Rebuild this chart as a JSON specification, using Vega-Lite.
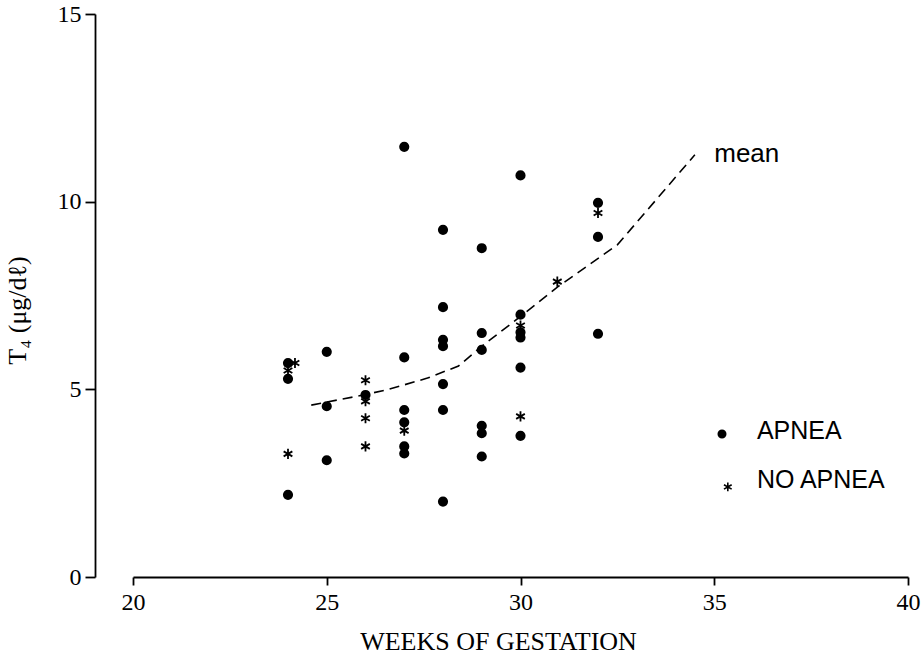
{
  "$schema": "https://vega.github.io/schema/vega-lite/v6.json",
  "width": 775,
  "height": 563,
  "autosize": {"type": "none"},
  "padding": {"left": 133, "top": 14, "right": 16, "bottom": 79},
  "background": "white",
  "config": {
    "view": {"stroke": null},
    "axis": {
      "grid": false,
      "domainColor": "black",
      "tickColor": "black",
      "labelColor": "black",
      "titleColor": "black",
      "labelFont": "Liberation Serif",
      "titleFont": "Liberation Serif",
      "titleFontWeight": "normal",
      "domainWidth": 1.8,
      "tickWidth": 1.8
    }
  },
  "datasets": {
    "points": [
      {"weeks": 24, "t4": 5.70, "group": "APNEA"},
      {"weeks": 24, "t4": 5.28, "group": "APNEA"},
      {"weeks": 24, "t4": 2.19, "group": "APNEA"},
      {"weeks": 25, "t4": 6.00, "group": "APNEA"},
      {"weeks": 25, "t4": 4.55, "group": "APNEA"},
      {"weeks": 25, "t4": 3.11, "group": "APNEA"},
      {"weeks": 26, "t4": 4.85, "group": "APNEA"},
      {"weeks": 27, "t4": 11.46, "group": "APNEA"},
      {"weeks": 27, "t4": 5.85, "group": "APNEA"},
      {"weeks": 27, "t4": 4.45, "group": "APNEA"},
      {"weeks": 27, "t4": 4.12, "group": "APNEA"},
      {"weeks": 27, "t4": 3.48, "group": "APNEA"},
      {"weeks": 27, "t4": 3.29, "group": "APNEA"},
      {"weeks": 28, "t4": 9.25, "group": "APNEA"},
      {"weeks": 28, "t4": 7.19, "group": "APNEA"},
      {"weeks": 28, "t4": 6.32, "group": "APNEA"},
      {"weeks": 28, "t4": 6.15, "group": "APNEA"},
      {"weeks": 28, "t4": 5.14, "group": "APNEA"},
      {"weeks": 28, "t4": 4.45, "group": "APNEA"},
      {"weeks": 28, "t4": 2.01, "group": "APNEA"},
      {"weeks": 29, "t4": 8.76, "group": "APNEA"},
      {"weeks": 29, "t4": 6.50, "group": "APNEA"},
      {"weeks": 29, "t4": 6.05, "group": "APNEA"},
      {"weeks": 29, "t4": 4.03, "group": "APNEA"},
      {"weeks": 29, "t4": 3.83, "group": "APNEA"},
      {"weeks": 29, "t4": 3.21, "group": "APNEA"},
      {"weeks": 30, "t4": 10.70, "group": "APNEA"},
      {"weeks": 30, "t4": 6.99, "group": "APNEA"},
      {"weeks": 30, "t4": 6.52, "group": "APNEA"},
      {"weeks": 30, "t4": 6.38, "group": "APNEA"},
      {"weeks": 30, "t4": 5.58, "group": "APNEA"},
      {"weeks": 30, "t4": 3.76, "group": "APNEA"},
      {"weeks": 32, "t4": 9.97, "group": "APNEA"},
      {"weeks": 32, "t4": 9.06, "group": "APNEA"},
      {"weeks": 32, "t4": 6.48, "group": "APNEA"},
      {"weeks": 24.18, "t4": 5.70, "group": "NO APNEA"},
      {"weeks": 24, "t4": 5.50, "group": "NO APNEA"},
      {"weeks": 24, "t4": 3.28, "group": "NO APNEA"},
      {"weeks": 26, "t4": 5.24, "group": "NO APNEA"},
      {"weeks": 26, "t4": 4.68, "group": "NO APNEA"},
      {"weeks": 26, "t4": 4.23, "group": "NO APNEA"},
      {"weeks": 26, "t4": 3.48, "group": "NO APNEA"},
      {"weeks": 27, "t4": 3.90, "group": "NO APNEA"},
      {"weeks": 30, "t4": 6.70, "group": "NO APNEA"},
      {"weeks": 30, "t4": 4.28, "group": "NO APNEA"},
      {"weeks": 30.95, "t4": 7.87, "group": "NO APNEA"},
      {"weeks": 32, "t4": 9.70, "group": "NO APNEA"}
    ],
    "mean": [
      {"weeks": 24.6, "t4": 4.58},
      {"weeks": 25.9, "t4": 4.84},
      {"weeks": 26.6, "t4": 5.0},
      {"weeks": 27.6, "t4": 5.3},
      {"weeks": 28.4, "t4": 5.62},
      {"weeks": 29.0, "t4": 6.15},
      {"weeks": 29.8, "t4": 6.78},
      {"weeks": 31.0, "t4": 7.76},
      {"weeks": 32.5, "t4": 8.85},
      {"weeks": 34.5, "t4": 11.25}
    ],
    "label": [{"weeks": 35.0, "t4": 11.05, "text": "mean"}],
    "legendSymbols": [
      {"weeks": 35.2, "t4": 3.81, "group": "APNEA"},
      {"weeks": 35.35, "t4": 2.40, "group": "NO APNEA"}
    ],
    "legendLabels": [
      {"weeks": 36.1, "t4": 3.88, "text": "APNEA"},
      {"weeks": 36.1, "t4": 2.59, "text": "NO APNEA"}
    ]
  },
  "encoding": {
    "x": {
      "field": "weeks",
      "type": "quantitative",
      "scale": {"domain": [20, 40], "nice": false, "zero": false},
      "axis": {
        "title": "WEEKS OF GESTATION",
        "values": [20, 25, 30, 35, 40],
        "tickSize": 8,
        "labelFontSize": 24,
        "labelPadding": 5,
        "labelFlush": false,
        "titleFontSize": 26,
        "titleX": 365,
        "titleY": 72,
        "titleAlign": "center",
        "titleBaseline": "alphabetic"
      }
    },
    "y": {
      "field": "t4",
      "type": "quantitative",
      "scale": {"domain": [0, 15], "nice": false, "zero": true},
      "axis": {
        "title": "T₄ (μg/dℓ)",
        "values": [0, 5, 10, 15],
        "offset": 38,
        "tickSize": 10,
        "labelFontSize": 24,
        "labelPadding": 4,
        "titleFontSize": 26,
        "titleX": -70,
        "titleY": 296,
        "titleAngle": -90,
        "titleAlign": "center",
        "titleBaseline": "alphabetic"
      }
    }
  },
  "layer": [
    {
      "data": {"name": "mean"},
      "mark": {"type": "line", "stroke": "black", "strokeWidth": 1.6, "strokeDash": [10, 6]}
    },
    {
      "data": {"name": "points"},
      "mark": {"type": "point", "filled": true, "fill": "black", "stroke": "black", "strokeWidth": 1.8, "opacity": 1, "size": 70},
      "encoding": {
        "shape": {
          "field": "group",
          "type": "nominal",
          "scale": {
            "domain": ["APNEA", "NO APNEA"],
            "range": ["circle", "M0,-1.2L0,1.2M-1.04,-0.6L1.04,0.6M-1.04,0.6L1.04,-0.6"]
          },
          "legend": null
        }
      }
    },
    {
      "data": {"name": "legendSymbols"},
      "mark": {"type": "point", "filled": true, "fill": "black", "stroke": "black", "strokeWidth": 1.6, "opacity": 1, "size": 55},
      "encoding": {
        "shape": {"field": "group", "type": "nominal", "legend": null}
      }
    },
    {
      "data": {"name": "legendLabels"},
      "mark": {"type": "text", "align": "left", "baseline": "middle", "font": "Liberation Sans", "fontSize": 25, "fill": "black"},
      "encoding": {"text": {"field": "text"}}
    },
    {
      "data": {"name": "label"},
      "mark": {"type": "text", "align": "left", "baseline": "alphabetic", "font": "Liberation Sans", "fontSize": 26, "fill": "black"},
      "encoding": {"text": {"field": "text"}}
    }
  ]
}
